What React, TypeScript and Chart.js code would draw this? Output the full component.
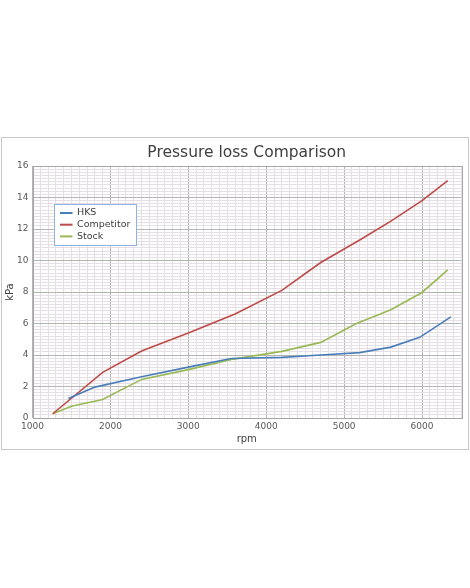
import React, { useEffect, useRef } from "react";
import { Chart, registerables } from "chart.js";

Chart.register(...registerables);

const chartTitle = "Pressure loss Comparison";
const xAxisTitle = "rpm";
const yAxisTitle = "kPa";

const seriesNames = ["HKS", "Competitor", "Stock"];
const seriesColors = ["#4a7ebb", "#be4b48", "#98b954"];

const hksRpm = [1460, 1800, 2400, 3000, 3550, 4200, 4700, 5200, 5600, 5970, 6370];
const hksKpa = [1.24, 1.96, 2.62, 3.23, 3.78, 3.85, 4.0, 4.15, 4.5, 5.12, 6.42];

const competitorRpm = [1260, 1900, 2400, 3000, 3600, 4200, 4700, 5200, 5600, 6000, 6330];
const competitorKpa = [0.27, 2.9, 4.25, 5.39, 6.6, 8.1, 9.87, 11.3, 12.5, 13.8, 15.07];

const stockRpm = [1260, 1500, 1900, 2400, 3000, 3580, 4200, 4700, 5150, 5600, 6000, 6330];
const stockKpa = [0.27, 0.75, 1.18, 2.45, 3.07, 3.74, 4.23, 4.8, 5.98, 6.87, 7.97, 9.41];

const xMin = 1000;
const xMax = 6500;
const xMinorStep = 100;
const xMajorStep = 1000;
const yMin = 0;
const yMax = 16;
const yMinorStep = 0.2;
const yMajorStep = 2;

const FONT = "'DejaVu Sans', Verdana, sans-serif";

function toPoints(xs: number[], ys: number[]) {
  return xs.map((x, i) => ({ x, y: ys[i] }));
}

const isMultiple = (v: number, step: number) => {
  const r = v / step;
  return Math.abs(r - Math.round(r)) < 1e-6;
};

const frameAndLegend = {
  id: "frameAndLegend",
  afterDraw(chart: any) {
    const { ctx, chartArea } = chart;
    ctx.save();
    // plot area border
    ctx.strokeStyle = "#a6a6a6";
    ctx.lineWidth = 1;
    ctx.strokeRect(
      Math.round(chartArea.left) + 0.5,
      Math.round(chartArea.top) + 0.5,
      Math.round(chartArea.right - chartArea.left),
      Math.round(chartArea.bottom - chartArea.top)
    );
    // legend
    const lx = Math.round(chartArea.left + 21) + 0.5;
    const ly = Math.round(chartArea.top + 38) + 0.5;
    const lw = 82;
    const lh = 41;
    ctx.fillStyle = "#ffffff";
    ctx.fillRect(lx, ly, lw, lh);
    ctx.strokeStyle = "#8db3e2";
    ctx.strokeRect(lx, ly, lw, lh);
    ctx.font = `9.5px ${FONT}`;
    ctx.textBaseline = "middle";
    chart.data.datasets.forEach((ds: any, i: number) => {
      const cy = ly + 8.5 + i * 11.7;
      ctx.strokeStyle = ds.borderColor;
      ctx.lineWidth = 2;
      ctx.beginPath();
      ctx.moveTo(lx + 5.5, cy);
      ctx.lineTo(lx + 18, cy);
      ctx.stroke();
      ctx.fillStyle = "#404040";
      ctx.fillText(ds.label, lx + 22.5, cy);
    });
    ctx.restore();
  },
};

export default function App() {
  const canvasRef = useRef<HTMLCanvasElement | null>(null);

  useEffect(() => {
    if (!canvasRef.current) return;
    const datasets = [
      toPoints(hksRpm, hksKpa),
      toPoints(competitorRpm, competitorKpa),
      toPoints(stockRpm, stockKpa),
    ].map((data, i) => ({
      label: seriesNames[i],
      data,
      borderColor: seriesColors[i],
      backgroundColor: seriesColors[i],
      borderWidth: 1.6,
      pointRadius: 0,
      showLine: true,
      tension: 0,
    }));

    const chart = new Chart(canvasRef.current, {
      type: "scatter",
      data: { datasets },
      options: {
        animation: false,
        responsive: false,
        maintainAspectRatio: false,
        layout: { padding: { left: 0, right: 7, top: 0, bottom: 0 } },
        plugins: {
          legend: { display: false },
          tooltip: { enabled: false },
          title: {
            display: true,
            fullSize: false,
            text: chartTitle,
            color: "#404040",
            font: { family: FONT, size: 15.5, weight: "normal" },
            padding: { top: 6, bottom: 3.4 },
          },
        },
        scales: {
          x: {
            type: "linear",
            min: xMin,
            max: xMax,
            afterFit(scale: any) {
              scale.height = 31;
            },
            ticks: {
              stepSize: xMinorStep,
              autoSkip: false,
              maxRotation: 0,
              minRotation: 0,
              padding: 3,
              color: "#595959",
              font: { family: FONT, size: 9 },
              callback: (v: any) => (isMultiple(Number(v), xMajorStep) ? String(v) : ""),
            },
            grid: {
              drawTicks: false,
              lineWidth: 1,
              color: (c: any) =>
                c.tick && isMultiple(c.tick.value, xMajorStep) ? "#b4b4b4" : "#e6e0e6",
            },
            border: { display: false },
            title: {
              display: true,
              text: xAxisTitle,
              color: "#404040",
              font: { family: FONT, size: 10 },
              padding: { top: 0, bottom: 4 },
            },
          },
          y: {
            type: "linear",
            min: yMin,
            max: yMax,
            afterFit(scale: any) {
              scale.width = 30.5;
            },
            ticks: {
              stepSize: yMinorStep,
              autoSkip: false,
              padding: 4,
              color: "#595959",
              font: { family: FONT, size: 9 },
              callback: (v: any) => {
                const n = Number(v);
                return isMultiple(n, yMajorStep) ? String(Math.round(n)) : "";
              },
            },
            grid: {
              drawTicks: false,
              lineWidth: 1,
              color: (c: any) =>
                c.tick && isMultiple(c.tick.value, yMajorStep) ? "#b4b4b4" : "#e6e0e6",
            },
            border: { display: false },
            title: {
              display: true,
              text: yAxisTitle,
              color: "#404040",
              font: { family: FONT, size: 10 },
              padding: { top: 2, bottom: 0 },
            },
          },
        },
      },
      plugins: [frameAndLegend],
    } as any);

    return () => chart.destroy();
  }, []);

  return (
    <div
      style={{
        position: "fixed",
        left: 0,
        top: 0,
        width: 470,
        height: 588,
        background: "#ffffff",
      }}
    >
      <div
        style={{
          position: "absolute",
          left: 1,
          top: 137,
          width: 468,
          height: 313,
          boxSizing: "border-box",
          border: "1px solid #c8c8c8",
        }}
      >
        <canvas
          ref={canvasRef}
          width={466}
          height={311}
          style={{ display: "block", width: 466, height: 311 }}
        />
      </div>
    </div>
  );
}
